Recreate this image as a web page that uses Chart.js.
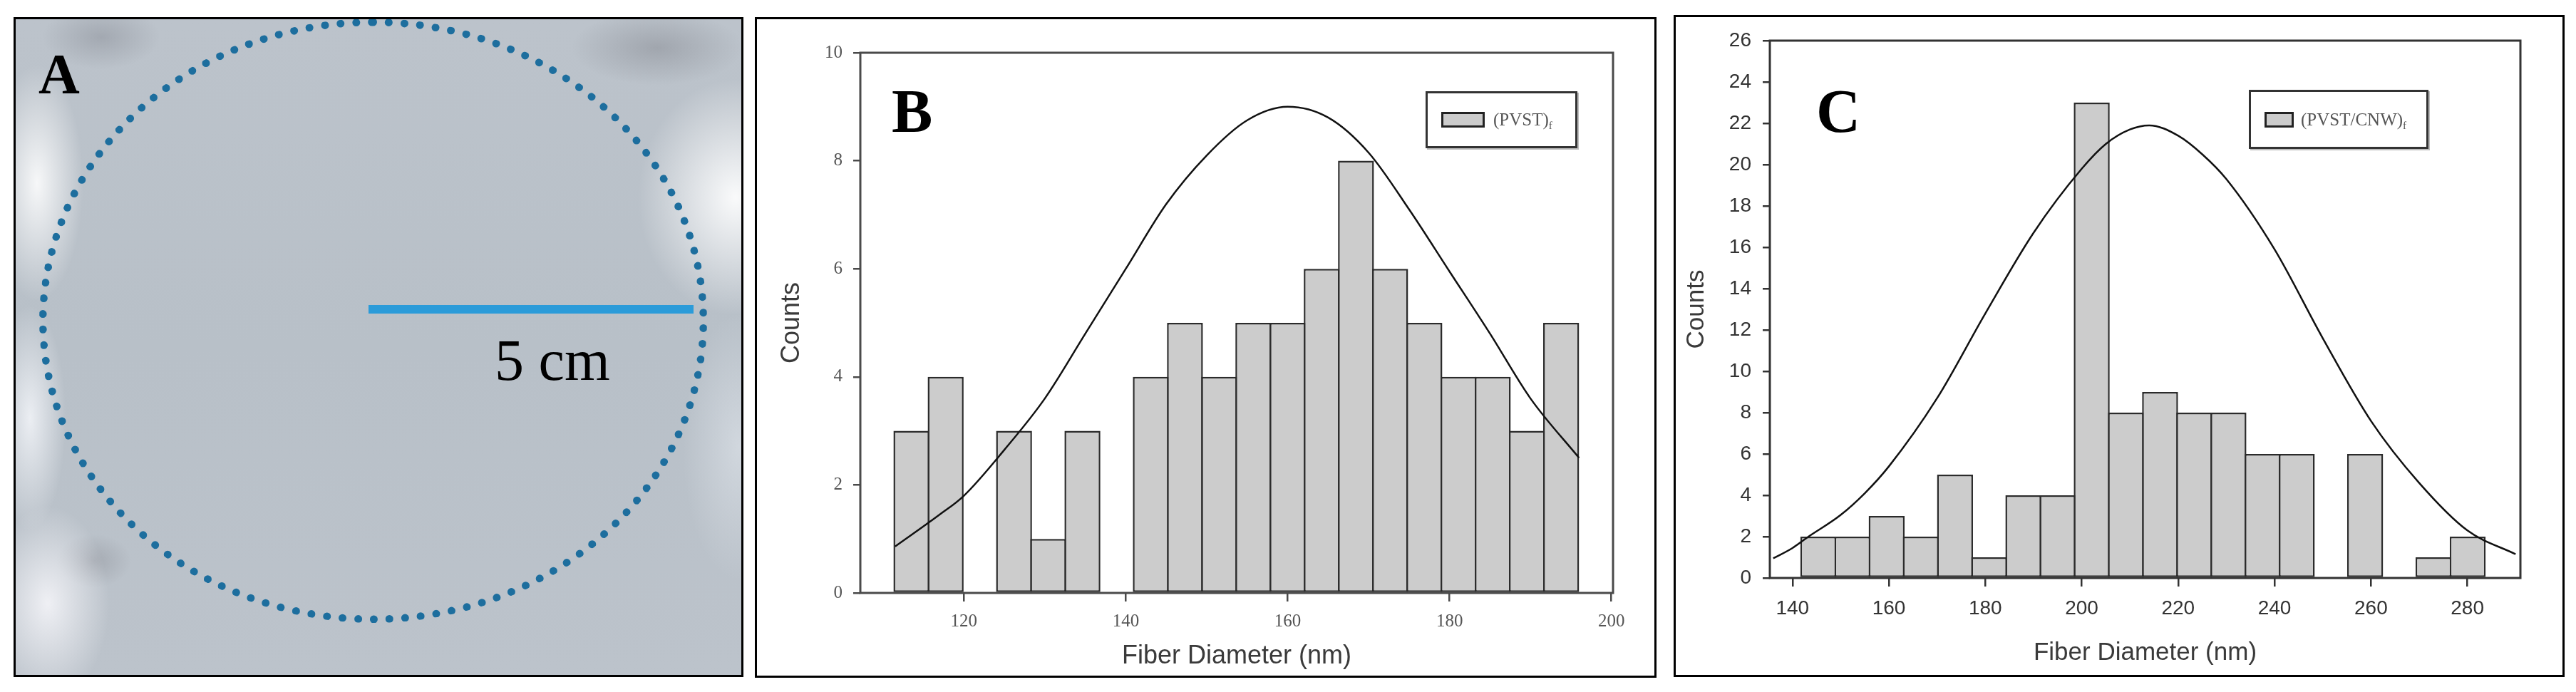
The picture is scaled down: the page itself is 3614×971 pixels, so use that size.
<!DOCTYPE html>
<html>
<head>
<meta charset="utf-8">
<script src="https://cdn.jsdelivr.net/npm/chart.js@4.4.0/dist/chart.umd.min.js"></script>
<style>
  html, body { margin: 0; padding: 0; background: #fff; }
  body { width: 3614px; height: 971px; position: relative; overflow: hidden; }
  .panel { position: absolute; box-sizing: border-box; border: 3px solid #000; background: #fff; overflow: hidden; }
  .panel canvas { position: absolute; left: 0; top: 0; }
  #panelA {
    left: 19px; top: 24px; width: 1024px; height: 926px;
    background:
      radial-gradient(ellipse 160px 70px at 900px 40px, rgba(110,112,120,0.35), rgba(110,112,120,0) 75%),
      radial-gradient(ellipse 190px 230px at 1010px 250px, rgba(255,255,255,0.92), rgba(255,255,255,0) 72%),
      radial-gradient(ellipse 110px 60px at 120px 25px, rgba(105,108,118,0.3), rgba(105,108,118,0) 75%),
      radial-gradient(ellipse 90px 230px at 30px 230px, rgba(255,255,255,0.88), rgba(255,255,255,0) 72%),
      radial-gradient(ellipse 70px 220px at 20px 560px, rgba(244,246,250,0.85), rgba(244,246,250,0) 72%),
      radial-gradient(ellipse 120px 190px at 45px 820px, rgba(246,246,250,0.88), rgba(246,246,250,0) 72%),
      radial-gradient(ellipse 70px 50px at 110px 760px, rgba(115,116,124,0.3), rgba(115,116,124,0) 75%),
      radial-gradient(ellipse 110px 260px at 1015px 600px, rgba(225,230,236,0.6), rgba(225,230,236,0) 72%),
      linear-gradient(180deg, #bcc3cb 0%, #b8c0c8 50%, #bcc3cb 100%);
  }
  .ring { position: absolute; left: 33px; top: -1px; width: 937px; height: 848px; box-sizing: border-box;
          border: 11px dotted #1d6e9e; border-radius: 50%; }
  .scalebar { position: absolute; left: 495px; top: 401px; width: 456px; height: 12px; background: #2b9bd9; }
  .serif { position: absolute; font-family: 'Liberation Serif', 'Times New Roman', serif; color: #000; white-space: nowrap; }
  .tag { font-weight: bold; }
  .legend { position: absolute; box-sizing: border-box; border: 3px solid #333; background: #fff;
            box-shadow: 2px 2px 0 #bdbdbd; }
  .legend .sw { position: absolute; box-sizing: border-box; border: 3px solid #222; background: #cccccc; }
  .legend .txt { position: absolute; font-family: 'Liberation Serif', 'Times New Roman', serif; font-size: 25px;
                 line-height: 24px; color: #555; white-space: nowrap; }
  .legend sub { font-size: 15px; vertical-align: -5px; }
</style>
</head>
<body>

<div class="panel" id="panelA">
  <div class="ring"></div>
  <div class="scalebar"></div>
  <div class="serif tag" style="left:32px; top:37px; font-size:80px; line-height:80px;">A</div>
  <div class="serif" style="left:672px; top:438px; font-size:82px; line-height:82px;">5 cm</div>
</div>

<div class="panel" id="panelB" style="left:1059px; top:24px; width:1265px; height:927px;">
  <canvas id="chartB" width="1259" height="921"></canvas>
  <div class="serif tag" style="left:189px; top:86px; font-size:86px; line-height:86px;">B</div>
  <div class="legend" style="left:938px; top:101px; width:213px; height:80px;">
    <div class="sw" style="left:19px; top:26px; width:61px; height:22px;"></div>
    <div class="txt" style="left:92px; top:25px;">(PVST)<sub>f</sub></div>
  </div>
</div>

<div class="panel" id="panelC" style="left:2348px; top:21px; width:1250px; height:929px;">
  <canvas id="chartC" width="1244" height="923"></canvas>
  <div class="serif tag" style="left:197px; top:89px; font-size:86px; line-height:86px;">C</div>
  <div class="legend" style="left:804px; top:102px; width:252px; height:83px;">
    <div class="sw" style="left:19px; top:28px; width:41px; height:22px;"></div>
    <div class="txt" style="left:70px; top:27px;">(PVST/CNW)<sub>f</sub></div>
  </div>
</div>

<script>
// Panel B: (PVST)f fiber diameter histogram
const bBinCenters = [113.51, 117.74, 121.96, 126.19, 130.41, 134.64, 138.86, 143.09, 147.31, 151.54,
                     155.76, 159.99, 164.21, 168.44, 172.66, 176.89, 181.11, 185.34, 189.56, 193.79];
const bCounts = [3, 4, 0, 3, 1, 3, 0, 4, 5, 4, 5, 5, 6, 8, 6, 5, 4, 4, 3, 5];
const bCurveX = [111.5, 117, 120, 125, 130, 135, 140, 145, 150, 155, 160, 165, 170, 175, 180, 185, 190, 196];
const bCurveY = [0.86, 1.45, 1.8, 2.65, 3.6, 4.8, 6.0, 7.2, 8.1, 8.75, 9.0, 8.8, 8.15, 7.1, 5.95, 4.8, 3.6, 2.5];
const bXTicks = [120, 140, 160, 180, 200];
const bYTicks = [0, 2, 4, 6, 8, 10];

// Panel C: (PVST/CNW)f fiber diameter histogram
const cBinCenters = [145.35, 152.44, 159.53, 166.62, 173.71, 180.80, 187.89, 194.98, 202.07, 209.16,
                     216.25, 223.34, 230.43, 237.52, 244.61, 251.70, 258.79, 265.88, 272.97, 280.06];
const cCounts = [2, 2, 3, 2, 5, 1, 4, 4, 23, 8, 9, 8, 8, 6, 6, 0, 6, 0, 1, 2];
const cCurveX = [136, 140, 143, 150, 155, 160, 170, 180, 190, 200, 205, 210, 214, 220, 225, 230, 240, 250, 260, 270, 280, 290];
const cCurveY = [0.95, 1.45, 1.95, 3.05, 4.1, 5.4, 8.7, 12.8, 16.7, 19.8, 21.0, 21.7, 21.9, 21.4, 20.5, 19.3, 15.9, 11.6, 7.6, 4.6, 2.3, 1.15];
const cXTicks = [140, 160, 180, 200, 220, 240, 260, 280];
const cYTicks = [0, 2, 4, 6, 8, 10, 12, 14, 16, 18, 20, 22, 24, 26];

const sans = "'Liberation Sans', Arial, sans-serif";
const serif = "'Liberation Serif', 'Times New Roman', serif";

// frame round the plotting area
function plotBox(color) {
    return {
        id: "plotBox",
        afterDraw(chart) {
            const { ctx, chartArea: a } = chart;
            ctx.save();
            ctx.strokeStyle = color;
            ctx.lineWidth = 3;
            ctx.strokeRect(a.left, a.top, a.right - a.left, a.bottom - a.top);
            ctx.restore();
        },
    };
}

function histogram(id, o) {
    new Chart(document.getElementById(id), {
        type: "bar",
        data: {
            datasets: [
                {
                    type: "line",
                    data: o.curveX.map((x, i) => ({ x: x, y: o.curveY[i] })),
                    borderColor: "#111",
                    borderWidth: 2.5,
                    pointRadius: 0,
                    cubicInterpolationMode: "monotone",
                    fill: false,
                    order: 0,
                },
                {
                    type: "bar",
                    data: o.centers.map((x, i) => ({ x: x, y: o.counts[i] })),
                    backgroundColor: "#cccccc",
                    borderColor: "#2b2b2b",
                    borderWidth: 2.5,
                    borderSkipped: false,
                    barPercentage: 1.052,
                    categoryPercentage: 1,
                    order: 1,
                },
            ],
        },
        options: {
            responsive: false,
            animation: false,
            devicePixelRatio: 1,
            layout: { padding: { top: o.padTop, right: o.padRight, left: 0, bottom: 0 } },
            plugins: { legend: { display: false }, tooltip: { enabled: false } },
            scales: {
                x: {
                    type: "linear",
                    min: o.xMin,
                    max: o.xMax,
                    offset: false,
                    afterBuildTicks: (s) => { s.ticks = o.xTicks.map((v) => ({ value: v })); },
                    afterFit: (s) => { s.height = o.xHeight; },
                    border: { display: false },
                    grid: { drawOnChartArea: false, drawTicks: true, tickLength: 12, color: o.axisColor, lineWidth: 2.5, offset: false },
                    ticks: { font: o.tickFont, color: o.tickColor, padding: o.xTickPad, maxRotation: 0, autoSkip: false },
                    title: { display: true, text: "Fiber Diameter (nm)", font: o.titleFont, color: "#3a3a3a",
                             padding: { top: 0, bottom: o.xTitlePad } },
                },
                y: {
                    min: 0,
                    max: o.yMax,
                    afterBuildTicks: (s) => { s.ticks = o.yTicks.map((v) => ({ value: v })); },
                    afterFit: (s) => { s.width = o.yWidth; },
                    border: { display: false },
                    grid: { drawOnChartArea: false, drawTicks: true, tickLength: 10, color: o.axisColor, lineWidth: 2.5 },
                    ticks: { font: o.tickFont, color: o.tickColor, padding: o.yTickPad },
                    title: { display: true, text: "Counts", font: o.titleFont, color: "#3a3a3a",
                             padding: { top: o.yTitlePad, bottom: 0 } },
                },
            },
        },
        plugins: [plotBox(o.axisColor)],
    });
}

histogram("chartB", {
    centers: bBinCenters, counts: bCounts, curveX: bCurveX, curveY: bCurveY,
    xTicks: bXTicks, yTicks: bYTicks, xMin: 107.2, xMax: 200.2, yMax: 10,
    padTop: 47, padRight: 58, yWidth: 145, xHeight: 116,
    axisColor: "#4a4a4a", tickColor: "#555",
    tickFont: { family: serif, size: 25 }, titleFont: { family: sans, size: 36 },
    xTickPad: 13, yTickPad: 15, xTitlePad: 5, yTitlePad: 27,
});

histogram("chartC", {
    centers: cBinCenters, counts: cCounts, curveX: cCurveX, curveY: cCurveY,
    xTicks: cXTicks, yTicks: cYTicks, xMin: 135.3, xMax: 291, yMax: 26,
    padTop: 33, padRight: 59, yWidth: 132, xHeight: 136,
    axisColor: "#333", tickColor: "#333",
    tickFont: { family: sans, size: 28 }, titleFont: { family: sans, size: 35 },
    xTickPad: 14, yTickPad: 16, xTitlePad: 10, yTitlePad: 8,
});
</script>
</body>
</html>
